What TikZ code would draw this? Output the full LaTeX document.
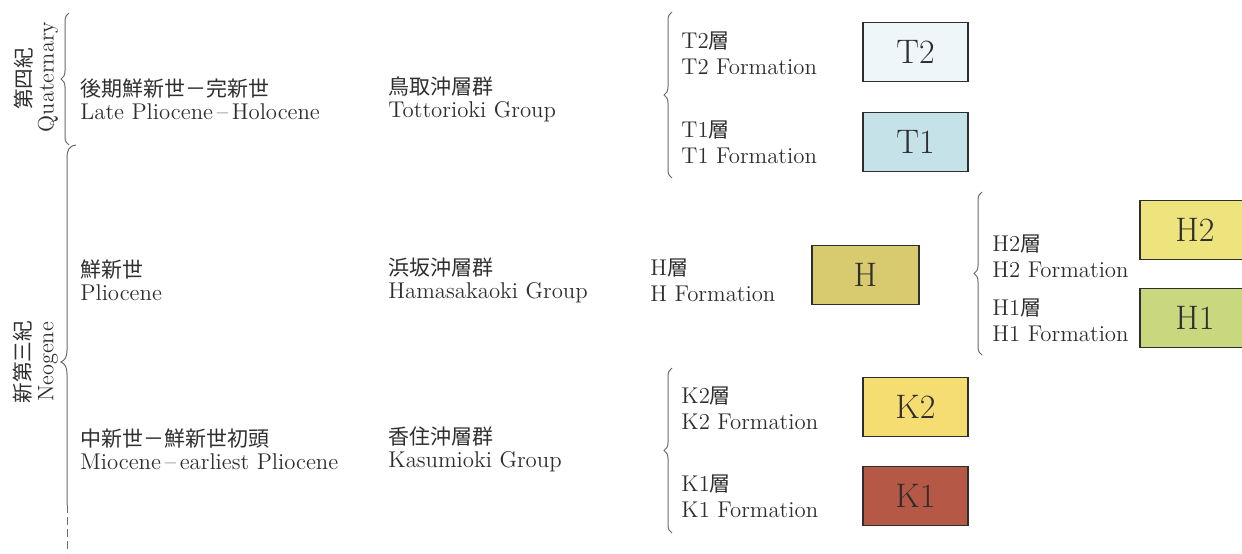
\documentclass[tikz,border=0pt]{standalone}
\usepackage{fontspec}
\newfontfamily\jp[Scale=0.92]{Noto Sans CJK JP}
\usetikzlibrary{decorations.pathreplacing}
\definecolor{ink}{HTML}{2E2E2E}
\definecolor{rule}{HTML}{6A6A6A}
\definecolor{cT2}{HTML}{EEF6FA}
\definecolor{cT1}{HTML}{C6E2E9}
\definecolor{cH}{HTML}{D8CA6E}
\definecolor{cH2}{HTML}{EEE47E}
\definecolor{cH1}{HTML}{C9D77F}
\definecolor{cK2}{HTML}{F6DD72}
\definecolor{cK1}{HTML}{B65846}
\tikzset{
	txt/.style={anchor=west,align=left,inner sep=0pt,text=ink,font=\fontsize{11.4}{11.5}\selectfont},
	ftxt/.style={txt,font=\fontsize{11.4}{13}\selectfont},
	vtxt/.style={rotate=90,inner sep=0pt,text=ink,font=\fontsize{11.2}{11.5}\selectfont},
	unit/.style={draw=ink,line width=0.6pt,minimum width=52.5pt,minimum height=29.5pt,inner sep=0pt,text=ink,font=\fontsize{17}{17}\selectfont},
	brc/.style={draw=rule,line width=0.5pt,decorate,decoration={brace,amplitude=4pt}},
	brcline/.style={draw=rule,line width=0.5pt}
}
\begin{document}
\begin{tikzpicture}[x=0.5pt,y=-0.5pt]
	\useasboundingbox (0,0) rectangle (1242,553);
	% periods
	\node[vtxt] (yonki) at (24,79) {\jp 第四紀};
	\node[vtxt] (quat) at (48,77) {Quaternary};
	\node[vtxt] (shinki) at (23,362) {\jp 新第三紀};
	\node[vtxt] (neog) at (48,362) {Neogene};
	\draw[brc] (69,145) -- (69,13);
	\draw[brcline] (76,145) .. controls (69,146) and (67,150) .. (67,158) -- (67,350) .. controls (67,357) and (65,360) .. (61,362) .. controls (65,364) and (67,367) .. (67,374) -- (67,505);
	\draw[brcline,dash pattern=on 4pt off 2pt] (67,505) -- (67,553);
	% epochs and groups
	\node[txt] (late) at (80,99) {{\jp 後期鮮新世－完新世}\\Late Pliocene\,--\,Holocene};
	\node[txt] (plio) at (80,280) {{\jp 鮮新世}\\Pliocene};
	\node[txt] (mio) at (80,449) {{\jp 中新世－鮮新世初頭}\\Miocene\,--\,earliest Pliocene};
	\node[txt] (tott) at (388,99) {{\jp 鳥取沖層群}\\Tottorioki Group};
	\node[txt] (hama) at (388,280) {{\jp 浜坂沖層群}\\Hamasakaoki Group};
	\node[txt] (kasu) at (388,449) {{\jp 香住沖層群}\\Kasumioki Group};
	% formations
	\draw[brc] (672,178) -- (672,12);
	\node[ftxt] (t2f) at (681,53) {T2{\jp 層}\\T2 Formation};
	\node[ftxt] (t1f) at (681,142) {T1{\jp 層}\\T1 Formation};
	\node[unit,fill=cT2] (T2) at (915.5,52) {T2};
	\node[unit,fill=cT1] (T1) at (915.5,142) {T1};
	\node[ftxt] (hf) at (650,280) {H{\jp 層}\\H Formation};
	\node[unit,fill=cH,minimum width=53.5pt] (H) at (865.5,275) {H};
	\draw[brc] (982,355) -- (982,192);
	\node[ftxt] (h2f) at (992,256) {H2{\jp 層}\\H2 Formation};
	\node[ftxt] (h1f) at (992,320) {H1{\jp 層}\\H1 Formation};
	\node[unit,fill=cH2,minimum width=55pt] (H2) at (1195,230) {H2};
	\node[unit,fill=cH1,minimum width=55pt] (H1) at (1195,318) {H1};
	\draw[brc] (672,533) -- (672,368);
	\node[ftxt] (k2f) at (681,408) {K2{\jp 層}\\K2 Formation};
	\node[ftxt] (k1f) at (681,496) {K1{\jp 層}\\K1 Formation};
	\node[unit,fill=cK2] (K2) at (915.5,407) {K2};
	\node[unit,fill=cK1] (K1) at (915.5,496) {K1};
\end{tikzpicture}
\end{document}
